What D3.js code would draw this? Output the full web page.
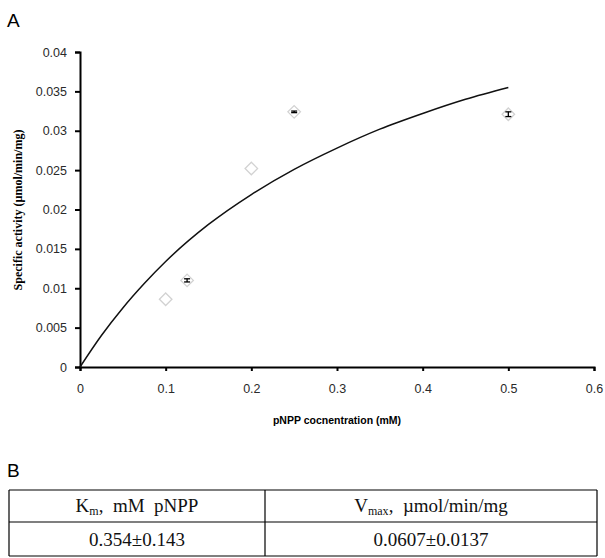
<!DOCTYPE html>
<html>
<head>
<meta charset="utf-8">
<script src="https://cdn.jsdelivr.net/npm/d3@7"></script>
<style>
  body { margin: 0; background: #fff; }
  svg { display: block; }
</style>
</head>
<body>
<div id="chart"></div>
<script>
// measured points (pNPP mM vs specific activity)
var concentration = [0.1, 0.125, 0.2, 0.25, 0.5];
var activity = [0.0086, 0.0110, 0.0252, 0.0324, 0.0321];
var activityErr = [0, 0.0002, 0, 0.0001, 0.0003];

// fitted curve
var fitX = [0, 0.025, 0.05, 0.075, 0.1, 0.15, 0.2, 0.25, 0.3, 0.35, 0.4, 0.45, 0.5];
var fitY = [0, 0.0040, 0.0075, 0.0106, 0.0134, 0.0181, 0.0219, 0.0251, 0.0278, 0.0302, 0.0322, 0.0340, 0.0355];

var xTicks = [0, 0.1, 0.2, 0.3, 0.4, 0.5, 0.6];
var yTicks = [0, 0.005, 0.01, 0.015, 0.02, 0.025, 0.03, 0.035, 0.04];

var tableHead = ["K_m, mM pNPP", "V_max, µmol/min/mg"];
var tableRow = ["0.354±0.143", "0.0607±0.0137"];

var width = 605, height = 558;

var svg = d3.select('#chart').append('svg')
    .attr('width', width)
    .attr('height', height);

var x = d3.scaleLinear().domain([0, 0.6]).range([80, 594]);
var y = d3.scaleLinear().domain([0, 0.04]).range([367, 52]);

// panel letters
svg.append('text').attr('x', 7).attr('y', 27)
    .style('font-family', 'Arial, Liberation Sans, sans-serif')
    .style('font-size', '19px').text('A');
svg.append('text').attr('x', 7).attr('y', 477)
    .style('font-family', 'Arial, Liberation Sans, sans-serif')
    .style('font-size', '19px').text('B');

// axes
var xAxis = svg.append('g')
    .attr('transform', 'translate(0,' + y(0) + ')')
    .call(d3.axisBottom(x).tickValues(xTicks).tickSize(4).tickPadding(13)
      .tickFormat(function(d) { return d3.format('')(d); }));
var yAxis = svg.append('g')
    .attr('transform', 'translate(' + x(0) + ',0)')
    .call(d3.axisLeft(y).tickValues(yTicks).tickSize(5).tickPadding(8)
      .tickFormat(function(d) { return d3.format('')(d); }));

[xAxis, yAxis].forEach(function(g) {
  g.select('.domain').attr('stroke', '#000').attr('stroke-width', 2);
  g.selectAll('.tick line').attr('stroke', '#000').attr('stroke-width', 2);
  g.selectAll('.tick text')
    .style('font-family', 'Liberation Sans, Arial, sans-serif')
    .style('font-size', '12.5px')
    .attr('fill', '#2a2a2a');
});

// axis titles
svg.append('text')
    .attr('x', 337).attr('y', 424)
    .attr('text-anchor', 'middle')
    .style('font-family', 'Liberation Sans, Arial, sans-serif')
    .style('font-size', '10.5px').style('font-weight', 'bold')
    .text('pNPP cocnentration (mM)');
svg.append('text')
    .attr('transform', 'translate(22,210) rotate(-90)')
    .attr('text-anchor', 'middle')
    .style('font-family', 'Liberation Serif, Times New Roman, serif')
    .style('font-size', '12px').style('font-weight', 'bold')
    .text('Specific activity (µmol/min/mg)');

// fitted curve
var fit = fitX.map(function(d, i) { return [d, fitY[i]]; });
svg.append('path')
    .datum(fit)
    .attr('fill', 'none')
    .attr('stroke', '#111')
    .attr('stroke-width', 1.5)
    .attr('d', d3.line()
      .x(function(d) { return x(d[0]); })
      .y(function(d) { return y(d[1]); })
      .curve(d3.curveMonotoneX));

// points
var pts = concentration.map(function(d, i) {
  return { c: d, a: activity[i], e: activityErr[i] };
});

svg.selectAll('.pt')
    .data(pts)
  .enter().append('path')
    .attr('class', 'pt')
    .attr('transform', function(d) { return 'translate(' + x(d.c) + ',' + y(d.a) + ')'; })
    .attr('d', d3.symbol().type(d3.symbolDiamond2).size(100))
    .attr('fill', 'none')
    .attr('stroke', '#d2d2d2')
    .attr('stroke-width', 1.3);

// error bars
var eb = svg.selectAll('.eb')
    .data(pts.filter(function(d) { return d.e > 0; }))
  .enter().append('g').attr('class', 'eb')
    .attr('stroke', '#000').attr('stroke-width', 1.3);
eb.append('line')
    .attr('x1', function(d) { return x(d.c); })
    .attr('x2', function(d) { return x(d.c); })
    .attr('y1', function(d) { return y(d.a + d.e); })
    .attr('y2', function(d) { return y(d.a - d.e); });
eb.append('line')
    .attr('x1', function(d) { return x(d.c) - 3; })
    .attr('x2', function(d) { return x(d.c) + 3; })
    .attr('y1', function(d) { return y(d.a + d.e); })
    .attr('y2', function(d) { return y(d.a + d.e); });
eb.append('line')
    .attr('x1', function(d) { return x(d.c) - 3; })
    .attr('x2', function(d) { return x(d.c) + 3; })
    .attr('y1', function(d) { return y(d.a - d.e); })
    .attr('y2', function(d) { return y(d.a - d.e); });

// table B
var tx = [9, 265, 597], ty = [490, 522, 556];
var table = svg.append('g').attr('stroke', '#000').attr('stroke-width', 1.2);
tx.forEach(function(v) {
  table.append('line').attr('x1', v).attr('x2', v).attr('y1', ty[0]).attr('y2', ty[2]);
});
ty.forEach(function(v) {
  table.append('line').attr('x1', tx[0]).attr('x2', tx[2]).attr('y1', v).attr('y2', v);
});

function cellText(str, cx, cy) {
  var t = svg.append('text')
    .attr('x', cx).attr('y', cy)
    .attr('text-anchor', 'middle')
    .style('font-family', 'Liberation Serif, Times New Roman, serif')
    .style('font-size', '19px')
    .attr('fill', '#111');
  var m = str.match(/^(\w)_(\w+)(.*)$/);
  if (m) {
    t.append('tspan').text(m[1]);
    t.append('tspan').attr('dy', 3).style('font-size', '12px').text(m[2]);
    t.append('tspan').attr('dy', -3).text(m[3].replace(' ', '\u00a0\u00a0').replace(/ (\S+)$/, '\u00a0\u00a0$1'));
  } else {
    t.text(str);
  }
}
cellText(tableHead[0], (tx[0] + tx[1]) / 2, 512);
cellText(tableHead[1], (tx[1] + tx[2]) / 2, 512);
cellText(tableRow[0], (tx[0] + tx[1]) / 2, 546);
cellText(tableRow[1], (tx[1] + tx[2]) / 2, 546);
</script>
</body>
</html>
